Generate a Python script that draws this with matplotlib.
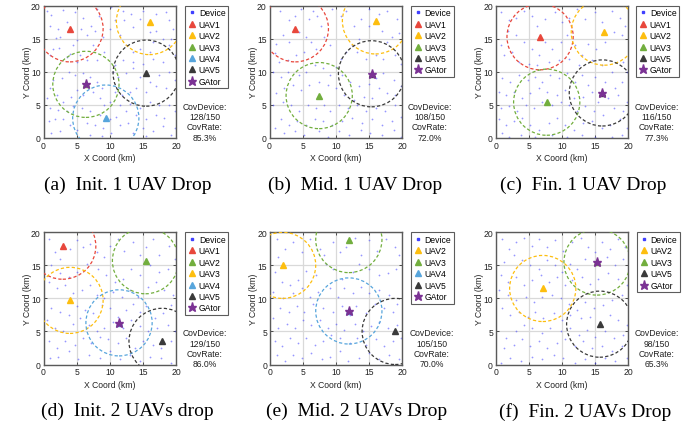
import matplotlib
matplotlib.use("Agg")
import matplotlib.pyplot as plt
from matplotlib.patches import Circle
from matplotlib.lines import Line2D

plt.rcParams['font.family'] = ['Liberation Sans', 'DejaVu Sans']

RED = '#E8473C'
YEL = '#FDBE0F'
GRN = '#72AE3E'
BLU = '#57A5DC'
BLK = '#3A3A3A'
PUR = '#7B3294'
DEV = '#4040FF'
RADIUS = 5.0

# ---------------- device positions (km) ----------------
dev_a = [(0.6,19.2),(1.1,18.6),(3.0,19.4),(3.6,17.6),(4.8,19.0),(6.0,18.2),(8.0,19.5),(8.4,18.5),(7.2,17.0),(6.5,15.5),
         (7.8,16.2),(5.6,16.5),(1.9,15.1),(2.5,15.2),(1.5,13.5),(2.4,13.6),(1.0,12.5),(3.5,12.2),(4.0,12.7),(5.0,11.5),
         (5.5,12.5),(6.5,11.8),(8.0,11.8),(9.2,13.0),(7.5,14.0),(10.2,19.8),(10.8,17.8),(10.0,16.5),(12.0,19.2),(13.2,18.8),
         (13.5,16.8),(15.0,19.2),(17.0,18.8),(18.5,19.0),(19.0,17.8),(19.5,16.5),(18.0,15.0),(17.0,16.2),(12.5,14.0),(13.5,13.0),
         (14.5,13.5),(16.0,13.0),(19.0,14.0),(19.8,12.5),(18.0,11.5),(16.5,12.0),(15.0,11.2),(13.5,11.5),(12.0,11.8),(10.8,11.0),
         (10.5,10.0),(11.2,9.2),(12.5,9.8),(13.5,10.5),(14.5,9.2),(16.0,8.5),(17.5,9.5),(19.0,10.0),(19.8,8.8),(18.5,7.5),
         (17.0,7.8),(15.5,7.0),(14.0,7.5),(13.0,7.0),(11.8,6.5),(10.8,7.0),(8.8,7.5),(8.0,8.5),(7.0,9.2),(6.0,9.8),
         (4.8,9.5),(3.8,10.0),(2.8,9.0),(1.5,8.8),(1.0,7.5),(0.5,6.0),(2.0,6.5),(3.0,5.5),(4.2,6.2),(5.0,7.2),
         (6.0,6.5),(7.5,7.0),(8.5,6.0),(9.2,5.0),(10.0,5.5),(11.5,5.0),(13.0,5.2),(14.5,4.5),(16.0,5.5),(17.5,5.0),
         (19.0,5.0),(19.8,4.0),(18.2,3.0),(17.0,3.5),(15.5,2.8),(14.0,3.5),(12.5,4.0),(11.0,3.2),(10.0,2.8),(8.5,3.5),
         (7.0,4.0),(5.8,4.5),(4.5,4.8),(3.5,4.0),(2.2,4.2),(1.0,4.5),(0.8,2.5),(1.8,2.8),(3.0,2.8),(4.0,2.0),
         (5.0,1.2),(6.5,2.2),(7.8,2.0),(9.0,1.5),(10.2,0.8),(11.5,2.0),(12.8,2.2),(13.5,0.8),(15.0,1.5),(16.5,1.0),
         (18.0,1.8),(19.2,0.5),(19.8,1.5),(2.5,1.0),(1.2,0.8),(7.0,0.5),(8.8,0.3),(15.5,0.3),(19.2,15.0),(16.5,14.5),
         (1.0,17.0),(2.2,16.5),(5.0,14.8),(4.5,14.0),(9.0,15.2),(11.5,15.5),(12.2,17.8),(14.5,18.0),(16.0,16.0)]

dev_b = [(1.6,19.2),(3.0,17.8),(3.8,18.5),(4.8,19.5),(6.0,18.0),(6.5,19.2),(7.2,18.5),(7.8,17.0),(9.5,19.5),(10.8,18.5),
         (11.5,19.2),(12.8,17.0),(13.8,18.0),(15.0,19.5),(16.5,18.8),(17.8,19.2),(19.2,18.0),(19.5,15.8),(18.5,15.2),(17.8,14.5),
         (17.0,16.2),(15.0,17.0),(13.5,15.0),(12.5,14.0),(11.5,13.0),(10.8,12.0),(13.2,13.0),(14.5,12.0),(16.0,12.5),(17.2,12.0),
         (19.0,12.5),(19.8,11.2),(2.0,15.5),(1.0,14.2),(3.0,14.5),(4.5,16.0),(5.5,15.2),(6.2,14.5),(8.2,15.2),(9.2,14.0),
         (7.0,13.5),(5.2,13.0),(4.0,12.5),(2.8,11.8),(1.5,11.5),(0.8,12.8),(0.5,10.0),(1.8,9.2),(2.8,10.0),(4.5,9.5),
         (5.5,10.0),(6.8,11.0),(8.0,10.5),(9.2,9.5),(10.0,10.8),(11.0,9.5),(12.2,8.5),(13.5,7.8),(15.0,8.2),(16.0,9.0),
         (17.2,9.8),(18.8,8.8),(19.8,7.8),(19.0,6.5),(17.8,6.8),(16.5,7.5),(15.5,6.0),(14.2,6.2),(12.8,5.8),(11.2,6.5),
         (10.0,7.5),(8.8,8.0),(7.5,8.5),(6.0,8.0),(4.8,7.2),(3.5,8.0),(2.2,7.5),(1.0,6.8),(0.5,5.0),(2.0,5.5),
         (3.2,5.0),(4.5,4.0),(5.8,5.0),(7.0,4.5),(8.2,5.0),(9.2,4.0),(10.5,5.0),(11.8,4.5),(13.2,5.0),(14.5,4.0),
         (16.0,4.5),(17.5,4.0),(19.0,5.0),(19.8,3.2),(18.5,2.5),(17.0,2.0),(15.5,2.8),(14.0,2.2),(12.5,3.0),(11.0,2.5),
         (9.5,2.0),(8.0,2.5),(6.8,2.8),(5.5,2.0),(4.2,2.5),(3.0,2.0),(1.8,2.8),(0.8,1.5),(2.2,0.8),(3.8,1.0),
         (5.2,0.5),(7.5,1.0),(8.8,0.2),(10.5,1.0),(12.0,0.5),(13.8,1.2),(15.2,0.8),(17.0,0.5),(18.8,1.2),(19.8,0.2)]

dev_c = [(0.8,19.0),(2.0,17.8),(3.0,18.2),(4.2,19.2),(5.5,18.5),(6.2,17.0),(7.5,18.0),(9.0,19.0),(10.0,17.5),(11.0,18.2),
         (12.2,19.5),(13.5,18.0),(15.0,19.0),(16.0,17.5),(17.5,19.2),(18.8,18.2),(19.5,17.0),(19.0,15.5),(17.8,16.0),(16.5,14.5),
         (15.2,13.5),(14.0,14.2),(13.0,12.5),(12.0,14.0),(10.8,15.5),(9.8,14.5),(8.5,13.5),(7.5,14.5),(6.5,12.5),(5.5,13.5),
         (4.2,14.5),(3.0,15.5),(1.8,16.2),(0.8,14.0),(1.2,12.5),(2.5,13.0),(3.5,11.5),(5.0,11.2),(6.2,11.0),(8.0,11.5),
         (9.5,11.8),(11.0,12.0),(12.5,11.0),(14.5,11.8),(16.0,11.0),(17.5,10.0),(19.2,11.5),(19.8,10.0),(19.0,8.5),(18.0,7.5),
         (16.5,8.5),(15.0,9.2),(14.0,8.0),(13.0,9.5),(12.0,8.5),(10.8,9.8),(9.5,9.0),(8.2,9.5),(7.0,8.5),(6.0,9.2),
         (4.8,8.8),(3.5,9.5),(2.2,8.5),(1.0,9.0),(0.5,7.0),(1.5,6.5),(2.8,7.0),(4.0,6.0),(5.2,6.8),(6.5,7.5),
         (7.8,7.0),(9.2,6.5),(10.5,7.2),(11.8,6.0),(13.2,6.2),(14.5,7.0),(15.5,5.5),(17.0,6.0),(18.5,6.5),(19.8,5.5),
         (19.2,4.0),(17.8,4.5),(16.2,3.5),(14.8,4.0),(13.5,4.8),(12.2,4.0),(11.0,5.0),(9.8,5.5),(8.5,5.0),(7.0,5.5),
         (5.8,4.5),(4.5,5.0),(3.2,4.0),(2.0,4.8),(0.8,4.5),(0.5,2.8),(1.5,2.0),(2.8,2.5),(4.0,3.0),(5.2,2.0),
         (6.5,1.2),(8.0,2.2),(9.2,3.0),(10.5,2.0),(11.8,1.2),(13.2,2.2),(14.5,2.5),(16.0,1.5),(17.2,2.0),(18.8,2.8),
         (19.8,1.5),(19.0,0.5),(17.5,0.2),(15.0,0.2),(13.0,0.5),(10.8,0.2),(8.5,0.5),(6.0,0.2),(3.8,0.5),(2.0,0.2),(1.0,0.8)]

dev_d = [(0.8,19.0),(1.8,17.0),(2.5,16.0),(4.0,17.5),(5.0,18.8),(6.0,17.8),(7.0,18.2),(8.0,17.0),(9.2,16.2),(10.0,18.0),
         (11.2,19.0),(12.2,17.2),(13.5,18.5),(14.5,16.5),(15.5,17.8),(16.5,19.0),(17.5,16.5),(19.0,18.0),(19.8,16.0),(18.8,14.5),
         (17.5,14.0),(16.0,15.0),(14.5,13.5),(13.2,14.5),(12.0,13.0),(10.8,12.5),(9.5,13.5),(8.2,14.5),(6.5,15.2),(5.0,14.0),
         (3.8,13.2),(2.5,13.8),(1.2,15.0),(0.8,12.5),(2.0,11.5),(3.2,12.0),(4.5,10.8),(5.8,11.2),(7.0,12.0),(8.0,10.5),
         (9.2,10.0),(10.5,11.0),(11.8,10.2),(13.0,11.2),(14.2,10.2),(15.8,11.8),(17.0,12.5),(18.2,11.2),(19.5,10.5),(19.2,9.0),
         (18.0,7.8),(16.8,7.0),(15.5,8.8),(14.5,8.0),(13.5,9.2),(12.5,8.2),(11.2,7.2),(10.0,8.5),(8.8,9.0),(7.5,7.8),
         (6.2,8.2),(5.0,8.8),(3.8,7.5),(2.5,8.0),(1.2,8.5),(0.5,6.8),(1.8,5.5),(3.0,5.0),(4.5,6.2),(5.5,7.0),
         (6.8,6.0),(8.0,5.0),(9.2,5.5),(10.5,6.5),(12.0,5.5),(13.2,6.8),(14.5,5.8),(15.8,5.0),(17.2,5.5),(18.8,6.0),
         (19.8,5.0),(19.2,3.5),(17.8,2.5),(16.5,3.0),(15.0,3.5),(13.8,2.5),(12.5,4.0),(11.2,3.2),(9.8,3.8),(8.5,4.2),
         (7.2,3.2),(6.0,4.0),(4.8,3.0),(3.2,3.5),(2.0,2.5),(0.8,3.5),(1.0,1.0),(2.2,1.2),(3.8,2.0),(5.2,0.8),
         (6.8,1.5),(8.5,1.0),(10.0,2.0),(11.5,0.8),(13.0,1.5),(14.5,0.5),(16.0,1.2),(17.8,1.0),(19.2,0.2)]

dev_e = [(1.0,19.0),(2.2,17.5),(1.2,16.2),(3.5,18.5),(4.8,17.0),(6.0,19.0),(7.5,17.5),(8.2,16.5),(9.5,18.5),(10.5,17.0),
         (11.5,17.8),(12.8,19.2),(13.8,16.5),(15.0,18.8),(16.2,17.2),(17.5,19.0),(18.8,17.8),(19.5,16.5),(19.0,14.5),(17.8,13.8),
         (16.5,13.5),(15.0,14.5),(13.5,15.2),(12.5,14.0),(10.8,13.0),(9.5,14.5),(8.5,15.2),(7.0,13.5),(5.5,14.2),(4.2,12.8),
         (3.0,12.0),(1.8,12.5),(0.8,14.0),(0.5,11.0),(2.0,10.0),(3.5,10.8),(4.8,11.5),(6.0,10.2),(7.2,11.0),(9.0,11.5),
         (10.2,10.2),(11.2,11.5),(12.5,10.8),(13.8,11.8),(15.0,10.8),(16.5,11.2),(18.0,10.5),(19.2,9.2),(18.5,8.0),(17.2,8.5),
         (15.8,9.2),(14.5,7.8),(13.0,8.8),(12.0,7.5),(10.8,8.8),(9.5,8.0),(8.0,8.5),(6.5,9.2),(5.2,8.0),(4.0,8.8),
         (2.8,8.0),(1.5,8.5),(0.5,7.0),(1.2,5.5),(2.5,6.2),(3.8,5.5),(5.0,6.8),(6.2,6.0),(7.5,6.8),(8.8,5.5),
         (10.0,6.2),(11.2,5.2),(12.8,6.2),(14.0,5.0),(15.2,5.8),(16.5,6.5),(17.8,5.5),(19.2,6.0),(19.8,4.0),(18.5,3.5),
         (17.2,2.8),(16.0,3.8),(14.5,3.0),(13.2,4.0),(12.0,3.2),(10.5,4.0),(9.2,4.5),(8.0,3.5),(6.8,3.0),(5.5,4.0),
         (4.2,3.2),(3.0,4.0),(1.8,2.8),(0.8,3.5),(1.0,1.5),(2.2,0.5),(3.5,1.5),(4.8,1.0),(6.2,1.8),(7.8,0.8),
         (9.0,1.2),(10.5,2.0),(11.8,0.5),(13.5,1.0),(15.0,1.8),(16.5,0.8),(18.0,1.5),(19.5,0.8)]

dev_f = [(1.0,19.0),(2.0,17.5),(3.0,18.5),(4.2,19.2),(5.5,18.0),(6.5,19.0),(7.8,17.8),(9.0,18.8),(10.2,17.2),(11.5,18.5),
         (12.8,19.2),(14.0,17.8),(15.0,17.0),(16.0,18.5),(17.2,17.5),(18.5,19.0),(19.5,17.8),(19.2,16.0),(18.0,15.0),(16.8,16.2),
         (13.5,16.0),(12.2,14.5),(11.2,15.2),(10.0,14.0),(9.0,15.0),(7.8,15.8),(6.5,14.5),(5.2,15.0),(4.0,15.8),(2.8,16.5),
         (1.2,15.5),(0.8,13.5),(1.8,12.5),(3.0,13.2),(4.2,12.0),(5.5,12.8),(6.8,13.5),(8.0,12.5),(9.2,13.2),(10.5,12.0),
         (11.5,12.8),(13.0,13.2),(14.2,12.2),(15.5,13.0),(17.0,13.8),(18.5,13.0),(19.8,12.0),(19.0,10.5),(17.5,9.8),(16.2,9.0),
         (14.8,8.5),(13.5,9.5),(12.2,8.2),(11.0,9.2),(9.8,10.0),(8.5,10.5),(7.0,10.2),(5.8,9.5),(4.5,10.2),(3.0,9.8),
         (1.8,10.5),(0.5,11.2),(1.0,8.5),(2.2,7.5),(3.5,8.0),(4.8,7.2),(6.0,8.0),(7.2,7.0),(8.8,7.8),(10.0,6.8),
         (11.2,7.5),(12.8,7.0),(14.2,7.2),(17.2,7.5),(18.5,6.8),(19.8,6.0),(19.2,4.5),(17.8,4.0),(16.5,5.0),(15.0,4.2),
         (13.8,5.2),(12.5,4.5),(11.2,5.5),(9.8,5.0),(8.2,5.5),(7.0,4.8),(5.5,5.5),(4.2,6.0),(3.0,5.0),(1.5,4.0),
         (1.2,2.5),(2.8,3.0),(4.0,3.8),(5.2,2.8),(6.5,3.5),(7.8,2.5),(9.2,3.2),(10.5,3.8),(12.0,2.8),(13.2,3.5),
         (14.5,2.5),(16.0,2.8),(17.5,2.0),(19.0,2.8),(19.8,1.0),(18.0,0.5),(16.5,1.0),(15.0,0.2),(13.5,0.8),(12.0,0.2),
         (10.2,1.0),(8.8,1.5),(7.0,0.8),(5.5,1.2),(3.8,0.5),(2.2,1.0),(0.8,0.2)]

# ---------------- UAVs per panel ----------------
names_a = ['UAV1', 'UAV2', 'UAV3', 'UAV4', 'UAV5']
ux_a = [4.0, 16.0, 6.4, 9.4, 15.5]
uy_a = [16.5, 17.6, 8.1, 3.0, 9.8]
col_a = [RED, YEL, GRN, BLU, BLK]
gator_a = (6.4, 8.1)

names_b = ['UAV1', 'UAV2', 'UAV3', 'UAV5']
ux_b = [3.9, 16.0, 7.5, 15.4]
uy_b = [16.5, 17.7, 6.4, 9.7]
col_b = [RED, YEL, GRN, BLK]
gator_b = (15.4, 9.7)

names_c = ['UAV1', 'UAV2', 'UAV3', 'UAV5']
ux_c = [6.7, 16.4, 7.7, 16.1]
uy_c = [15.3, 16.0, 5.4, 6.8]
col_c = [RED, YEL, GRN, BLK]
gator_c = (16.1, 6.8)

names_d = ['UAV1', 'UAV2', 'UAV3', 'UAV4', 'UAV5']
ux_d = [2.9, 15.4, 4.0, 11.4, 17.9]
uy_d = [17.9, 15.7, 9.7, 6.3, 3.5]
col_d = [RED, GRN, YEL, BLU, BLK]
gator_d = (11.4, 6.3)

names_e = ['UAV2', 'UAV3', 'UAV4', 'UAV5']
ux_e = [1.9, 11.9, 11.9, 18.9]
uy_e = [15.0, 18.9, 8.1, 5.0]
col_e = [YEL, GRN, BLU, BLK]
gator_e = (11.9, 8.1)

names_f = ['UAV2', 'UAV3', 'UAV5']
ux_f = [7.1, 15.3, 15.7]
uy_f = [11.5, 15.5, 6.1]
col_f = [YEL, GRN, BLK]
gator_f = (15.3, 15.5)

cov_dev = ['128/150', '108/150', '116/150', '129/150', '105/150', '98/150']
cov_rate = ['85.3%', '72.0%', '77.3%', '86.0%', '70.0%', '65.3%']
captions = ['(a)  Init. 1 UAV Drop', '(b)  Mid. 1 UAV Drop', '(c)  Fin. 1 UAV Drop',
            '(d)  Init. 2 UAVs drop', '(e)  Mid. 2 UAVs Drop', '(f)  Fin. 2 UAVs Drop']

panels = [
    (dev_a, names_a, ux_a, uy_a, col_a, gator_a),
    (dev_b, names_b, ux_b, uy_b, col_b, gator_b),
    (dev_c, names_c, ux_c, uy_c, col_c, gator_c),
    (dev_d, names_d, ux_d, uy_d, col_d, gator_d),
    (dev_e, names_e, ux_e, uy_e, col_e, gator_e),
    (dev_f, names_f, ux_f, uy_f, col_f, gator_f),
]

W, H = 692, 427
fig = plt.figure(figsize=(W / 100, H / 100), dpi=100)

# layout in pixels: (left, top) of axes, legend anchor, stats center x, caption center x
ax_left = [43.5, 269.5, 495.7, 43.5, 270.0, 495.7]
ax_top = [6.7, 6.7, 6.7, 233.3, 233.3, 233.3]
AW, AH = 132.5, 132.2
leg_x = [185.0, 410.7, 636.0, 185.0, 410.7, 636.7]
stat_x = [205.0, 430.0, 656.7, 205.0, 431.7, 656.7]
cap_x = [127.5, 355.0, 582.8, 127.5, 356.7, 585.0]

FS = 6.2
for i, (dev, names, ux, uy, cols, gator) in enumerate(panels):
    l, t = ax_left[i], ax_top[i]
    ax = fig.add_axes([l / W, 1 - (t + AH) / H, AW / W, AH / H])
    ax.set_xlim(0, 20)
    ax.set_ylim(0, 20)
    ax.set_xticks([0, 5, 10, 15, 20])
    ax.set_yticks([0, 5, 10, 15, 20])
    ax.grid(True, color='#d9d9d9', lw=0.9)
    ax.set_axisbelow(True)
    ax.tick_params(direction='in', length=2, width=0.6, labelsize=FS, pad=2,
                   top=True, right=True, colors='#333333', labelcolor='#222222')
    for sp in ax.spines.values():
        sp.set_color('#5a5a5a')
        sp.set_linewidth(1.0)
    ax.set_xlabel('X Coord (km)', fontsize=FS, color='#222222')
    ax.set_ylabel('Y Coord (km)', fontsize=FS, color='#222222')
    ax.xaxis.set_label_coords(0.5, -0.115)
    ax.yaxis.set_label_coords(-0.09, 0.5)

    dx = [p[0] for p in dev]
    dy = [p[1] for p in dev]
    ax.scatter(dx, dy, s=1.6, color=DEV, alpha=0.55, linewidths=0, zorder=2)

    handles = [Line2D([], [], marker='s', ms=1.5, ls='none', color=DEV, label='Device')]
    for n, x, y, c in zip(names, ux, uy, cols):
        circ = Circle((x, y), RADIUS, fill=False, ec=c, lw=0.9, ls=(0, (2.6, 1.8)), zorder=3)
        ax.add_patch(circ)
        ax.plot([x], [y], marker='^', ms=4.8, color=c, ls='none', zorder=4)
        handles.append(Line2D([], [], marker='^', ms=4.8, ls='none', color=c, label=n))
    ax.plot([gator[0]], [gator[1]], marker='*', ms=6.5, color=PUR, ls='none', zorder=5)
    handles.append(Line2D([], [], marker='*', ms=6.5, ls='none', color=PUR, label='GAtor'))

    leg = fig.legend(handles=handles, loc='upper left',
                     bbox_to_anchor=(leg_x[i] / W, 1 - t / H),
                     fontsize=FS, frameon=True, fancybox=False, borderpad=0.3,
                     labelspacing=0.28, handlelength=1.0, handletextpad=0.3,
                     borderaxespad=0.0)
    leg.get_frame().set_edgecolor('#333333')
    leg.get_frame().set_linewidth(0.8)

    fig.text(stat_x[i] / W, 1 - (t + 96.0) / H,
             'CovDevice:\n' + cov_dev[i] + '\nCovRate:\n' + cov_rate[i],
             ha='center', va='top', fontsize=FS, linespacing=1.2, color='#222222')

    fig.text(cap_x[i] / W, 1 - (t + 178.5) / H, captions[i], ha='center', va='center',
             fontsize=14, family='Liberation Serif', color='black')

fig.savefig('out.png', dpi=100)
